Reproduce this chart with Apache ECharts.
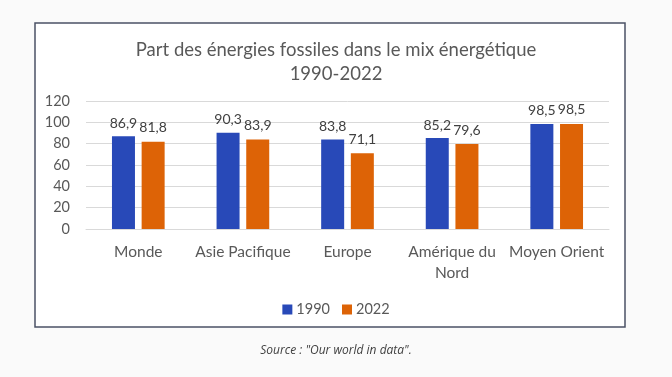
<!DOCTYPE html>
<html><head><meta charset="utf-8">
<script src="https://cdn.jsdelivr.net/npm/echarts@6/dist/echarts.min.js"></script>
<style>html,body{margin:0;padding:0;background:#fafafa;}#c{width:672px;height:377px;}</style>
</head><body><div id="c"></div>
<script>
const categories = ["Monde", "Asie Pacifique", "Europe", "Amérique du\nNord", "Moyen Orient"];
const values1990 = [86.9, 90.3, 83.8, 85.2, 98.5];
const values2022 = [81.8, 83.9, 71.1, 79.6, 98.5];
const seriesNames = ["1990", "2022"];
const titleText = "Part des énergies fossiles dans le mix énergétique\n1990-2022";
const captionText = "Source : \"Our world in data\".";

const chart = echarts.init(document.getElementById('c'), null, {renderer: 'canvas'});
const fontFam = "Lato, 'Open Sans', sans-serif";
const fmt = p => p.value.toFixed(1).replace('.', ',');
chart.setOption({
  backgroundColor: '#fafafa',
  animation: false,
  graphic: [{
    type: 'rect', shape: {x: 35, y: 23, width: 590, height: 304},
    style: {fill: '#ffffff', stroke: '#4b5266', lineWidth: 1.5}, z: -10
  }],
  title: [{
    text: titleText, left: 'center', top: 33,
    textStyle: {fontFamily: fontFam, fontSize: 18.5, fontWeight: 'normal', color: '#595959', lineHeight: 24, align: 'center'}
  }, {
    text: captionText, left: 'center', top: 340,
    textStyle: {fontFamily: "'Open Sans', sans-serif", fontSize: 12, fontStyle: 'italic', fontWeight: 'normal', color: '#404040'}
  }],
  legend: {
    data: seriesNames, left: 'center', top: 297, itemWidth: 10, itemHeight: 10, itemGap: 12, icon: 'rect',
    textStyle: {fontFamily: fontFam, fontSize: 14.5, color: '#595959', padding: [0, 0, 0, -1]}
  },
  grid: {left: 86, right: 63, top: 101, bottom: 148},
  xAxis: {
    type: 'category', data: categories,
    axisLine: {lineStyle: {color: '#d9d9d9'}}, axisTick: {show: false},
    axisLabel: {fontFamily: fontFam, fontSize: 15.5, color: '#595959', margin: 12, lineHeight: 21, interval: 0}
  },
  yAxis: {
    type: 'value', min: 0, max: 120, interval: 20,
    axisLine: {show: false}, axisTick: {show: false},
    splitLine: {lineStyle: {color: '#d9d9d9'}},
    axisLabel: {fontFamily: fontFam, fontSize: 14.5, color: '#595959', margin: 16}
  },
  series: [{
    name: seriesNames[0], type: 'bar', data: values1990, barWidth: 23, barGap: '29%',
    itemStyle: {color: '#2849b8'},
    label: {show: true, position: 'top', distance: 6, formatter: fmt, fontFamily: fontFam, fontSize: 14, color: '#404040'}
  }, {
    name: seriesNames[1], type: 'bar', data: values2022, barWidth: 23,
    itemStyle: {color: '#dd6306'},
    label: {show: true, position: 'top', distance: 7, formatter: fmt, fontFamily: fontFam, fontSize: 14, color: '#404040'}
  }]
});
</script></body></html>
